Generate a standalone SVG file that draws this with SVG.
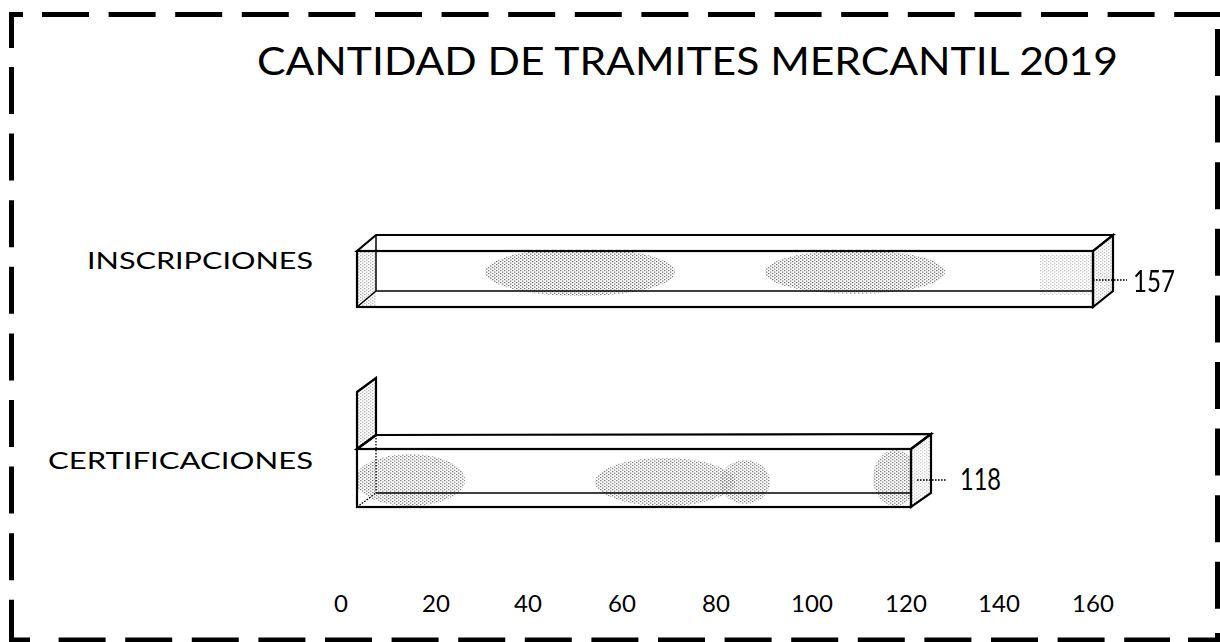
<svg xmlns="http://www.w3.org/2000/svg" width="1220" height="642" viewBox="0 0 1220 642">
<defs>
<style>
.border{fill:none;stroke:#000;stroke-width:5}
.dash{stroke-dasharray:47 19.6}
.edge{fill:none;stroke:#000;stroke-width:2.2;stroke-linejoin:miter}
.back{fill:none;stroke:#000;stroke-width:1.5}
.dotted{fill:none;stroke:#000;stroke-width:1.3;stroke-dasharray:1.6 1.4}
.stip{fill:url(#stip)}
.t{font-family:"Lato","Open Sans","Liberation Sans",sans-serif;fill:#000}
</style>
<pattern id="stip" width="4" height="3" patternUnits="userSpaceOnUse">
<rect x="0" y="0" width="1.4" height="1.2" fill="#000"/>
<rect x="2" y="1.5" width="1.4" height="1.2" fill="#000"/>
</pattern>
<clipPath id="f1"><rect x="357" y="251" width="736" height="56"/></clipPath>
<clipPath id="f2"><rect x="357" y="449" width="554" height="58"/></clipPath>
</defs>
<rect width="1220" height="642" fill="#fff"/>

<g id="border">
<path class="border" d="M11.5,48 V14.5 H23"/>
<path class="border dash" d="M42,14.5 H1220"/>
<path class="border dash" d="M11.5,67 V600"/>
<path class="border" d="M11.5,600 V640 H30"/>
<path class="border dash" d="M58.6,640 H1170"/>
<path class="border" d="M1188,640 H1217.5 V633"/>
<path class="border dash" d="M1217.5,29 V620"/>
</g>

<text id="title" class="t" x="257" y="75" font-size="38" textLength="861" lengthAdjust="spacingAndGlyphs">CANTIDAD DE TRAMITES MERCANTIL 2019</text>

<g id="bar-inscripciones">
<text class="t" x="87" y="269" font-size="23" textLength="226" lengthAdjust="spacingAndGlyphs">INSCRIPCIONES</text>
<g clip-path="url(#f1)" opacity="0.55">
<ellipse class="stip" cx="580" cy="272" rx="95" ry="24"/>
<ellipse class="stip" cx="855" cy="272" rx="90" ry="22"/>
<rect class="stip" x="357" y="251" width="19" height="56" opacity="0.6"/>
<rect class="stip" x="1040" y="255" width="53" height="40" opacity="0.4"/>
</g>
<polygon class="stip" points="1093,251 1113,235 1113,291 1093,307" opacity="0.25"/>
<path class="back" d="M376,235 V291 H1093 M357,307 L376,291"/>
<polygon class="edge" points="357,251 376,235 1113,235 1093,251"/>
<polygon class="edge" points="1093,251 1113,235 1113,291 1093,307"/>
<rect class="edge" x="357" y="251" width="736" height="56"/>
<path class="dotted" d="M1093,280 H1127"/>
<text class="t" x="1133" y="292" font-size="30" textLength="42" lengthAdjust="spacingAndGlyphs">157</text>
</g>

<g id="wall">
<polygon class="stip" points="357,392 376,378 376,435 357,449" opacity="0.3"/>
<polygon class="edge" points="357,392 376,378 376,435 357,449"/>
</g>

<g id="bar-certificaciones">
<text class="t" x="48" y="469" font-size="23" textLength="265" lengthAdjust="spacingAndGlyphs">CERTIFICACIONES</text>
<g clip-path="url(#f2)" opacity="0.5">
<ellipse class="stip" cx="410" cy="480" rx="55" ry="26"/>
<ellipse class="stip" cx="665" cy="482" rx="70" ry="24"/>
<ellipse class="stip" cx="745" cy="482" rx="25" ry="22"/>
<ellipse class="stip" cx="895" cy="478" rx="22" ry="28"/>
</g>
<polygon class="stip" points="911,449 931,434 931,493 911,507" opacity="0.2"/>
<path class="dotted" d="M376,435 V493 M357,507 L376,493"/>
<path class="back" d="M376,493 H911"/>
<polygon class="edge" points="357,449 376,435 931,434 911,449"/>
<polygon class="edge" points="911,449 931,434 931,493 911,507"/>
<rect class="edge" x="357" y="449" width="554" height="58"/>
<path class="dotted" d="M917,480 H947"/>
<text class="t" x="960" y="490" font-size="30" textLength="41" lengthAdjust="spacingAndGlyphs">118</text>
</g>

<g id="axis" class="t" font-size="24" text-anchor="middle">
<text x="341" y="612">0</text>
<text x="436" y="612">20</text>
<text x="528" y="612">40</text>
<text x="622" y="612">60</text>
<text x="716" y="612">80</text>
<text x="812" y="612">100</text>
<text x="906" y="612">120</text>
<text x="999" y="612">140</text>
<text x="1093" y="612">160</text>
</g>
</svg>
